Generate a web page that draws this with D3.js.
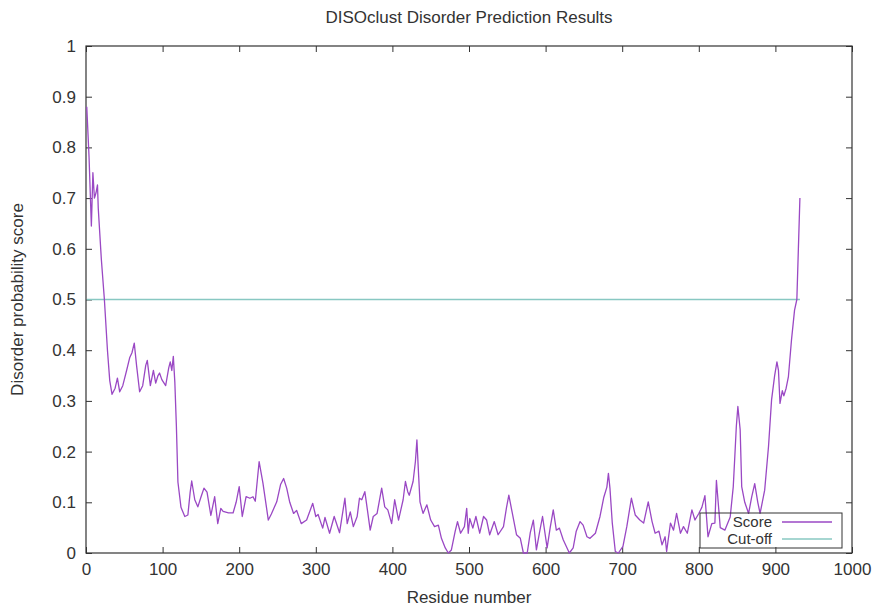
<!DOCTYPE html>
<html>
<head>
<meta charset="utf-8">
<script src="https://cdn.jsdelivr.net/npm/d3@7"></script>
<style>
    body { margin: 0; background: #fff; }
    text { font-family: "Liberation Sans", Arial, sans-serif; fill: #333; }
</style>
</head>
<body>
<div id="svg_wrapper"></div>
<script>
const chartTitle = 'DISOclust Disorder Prediction Results';
const xTitle = 'Residue number';
const yTitle = 'Disorder probability score';

const residues = [1, 4, 7, 9, 11, 13, 15, 16, 20, 24, 28, 31, 34, 38, 41, 44, 48, 53, 57, 60,
    63, 66, 70, 74, 78, 80, 84, 88, 91, 94, 96, 99, 104, 108, 110, 112, 114, 116, 118, 120,
    124, 129, 133, 136, 138, 142, 146, 150, 154, 158, 163, 168, 172, 176, 179, 186, 192, 196, 200, 204,
    209, 214, 218, 221, 226, 231, 238, 242, 249, 254, 258, 262, 266, 271, 275, 281, 288, 296, 300, 303,
    309, 312, 318, 324, 331, 338, 341, 345, 349, 354, 357, 360, 364, 366, 371, 375, 380, 386, 390, 394,
    399, 403, 408, 414, 417, 420, 422, 427, 430, 432, 434, 436, 440, 445, 450, 455, 460, 464, 469, 473,
    477, 482, 485, 489, 494, 497, 499, 501, 505, 509, 514, 519, 523, 527, 533, 538, 545, 549, 552, 557,
    562, 567, 571, 576, 580, 584, 588, 592, 596, 602, 606, 610, 614, 618, 623, 631, 636, 640, 645, 649,
    654, 658, 665, 671, 676, 680, 682, 684, 687, 691, 695, 701, 706, 712, 717, 723, 728, 734, 739, 743,
    748, 752, 756, 758, 763, 767, 771, 776, 780, 785, 791, 795, 800, 804, 808, 812, 817, 821, 823, 828,
    834, 841, 845, 847, 849, 851, 854, 856, 860, 865, 869, 873, 877, 880, 886, 891, 895, 899, 902, 904,
    906, 909, 911, 914, 917, 921, 925, 928, 930, 932];

const scores = [0.88, 0.78, 0.645, 0.75, 0.70, 0.71, 0.726, 0.68, 0.58, 0.50, 0.40, 0.34, 0.313, 0.325, 0.345, 0.318, 0.33, 0.36, 0.385, 0.395,
    0.414, 0.37, 0.318, 0.33, 0.37, 0.38, 0.33, 0.36, 0.335, 0.35, 0.355, 0.342, 0.33, 0.365, 0.377, 0.36, 0.388, 0.336, 0.25, 0.14,
    0.09, 0.072, 0.075, 0.12, 0.142, 0.105, 0.091, 0.11, 0.128, 0.12, 0.074, 0.111, 0.058, 0.088, 0.082, 0.079, 0.079, 0.1, 0.131, 0.072,
    0.111, 0.108, 0.111, 0.102, 0.18, 0.138, 0.065, 0.077, 0.101, 0.135, 0.147, 0.128, 0.1, 0.078, 0.084, 0.058, 0.065, 0.098, 0.072, 0.076,
    0.049, 0.07, 0.039, 0.072, 0.04, 0.108, 0.058, 0.081, 0.052, 0.072, 0.108, 0.105, 0.121, 0.1, 0.045, 0.072, 0.078, 0.128, 0.091, 0.085,
    0.058, 0.105, 0.065, 0.105, 0.141, 0.121, 0.114, 0.141, 0.18, 0.223, 0.16, 0.101, 0.078, 0.095, 0.065, 0.052, 0.055, 0.029, 0.01, 0.0,
    0.006, 0.043, 0.062, 0.039, 0.052, 0.088, 0.039, 0.068, 0.049, 0.072, 0.039, 0.072, 0.065, 0.036, 0.062, 0.036, 0.052, 0.09, 0.114, 0.075,
    0.036, 0.029, 0.0, 0.0, 0.04, 0.065, 0.006, 0.04, 0.072, 0.01, 0.05, 0.085, 0.045, 0.049, 0.026, 0.0, 0.01, 0.043, 0.062, 0.055,
    0.032, 0.029, 0.039, 0.072, 0.11, 0.13, 0.157, 0.128, 0.06, 0.003, 0.0, 0.013, 0.052, 0.108, 0.075, 0.065, 0.059, 0.101, 0.062, 0.039,
    0.043, 0.016, 0.032, 0.003, 0.059, 0.045, 0.078, 0.039, 0.052, 0.039, 0.085, 0.065, 0.078, 0.09, 0.113, 0.032, 0.058, 0.059, 0.143, 0.05,
    0.045, 0.071, 0.131, 0.19, 0.25, 0.289, 0.243, 0.131, 0.1, 0.078, 0.11, 0.137, 0.1, 0.078, 0.124, 0.21, 0.302, 0.35, 0.377, 0.36,
    0.295, 0.32, 0.31, 0.325, 0.348, 0.42, 0.479, 0.5, 0.6, 0.70];

const cutoff = 0.5;
const xTicks = [0, 100, 200, 300, 400, 500, 600, 700, 800, 900, 1000];
const yTicks = [0, 0.1, 0.2, 0.3, 0.4, 0.5, 0.6, 0.7, 0.8, 0.9, 1];
const legendLabels = ['Score', 'Cut-off'];

const width = 877, height = 608;
const margin = { left: 86, right: 25, top: 46, bottom: 55 };
const scoreColor = '#9a48c4';
const cutoffColor = '#88c8c2';
const axisColor = '#333';

const svg = d3.select('#svg_wrapper')
    .append('svg')
    .attr('width', width)
    .attr('height', height);

const x = d3.scaleLinear()
    .domain([0, 1000])
    .range([margin.left, width - margin.right]);

const y = d3.scaleLinear()
    .domain([0, 1])
    .range([height - margin.bottom, margin.top]);

const points = residues.map((r, i) => ({ r: r, v: scores[i] }));

// gnuplot style: ticks point inward, mirrored on top and right
const tickLen = 6;
svg.append('g')
    .attr('transform', `translate(0,${y(0)})`)
    .call(d3.axisBottom(x).tickValues(xTicks).tickSizeInner(-tickLen).tickSizeOuter(0).tickPadding(10).tickFormat(d3.format('d')))
    .call(g => g.select('.domain').remove());

svg.append('g')
    .attr('transform', `translate(0,${y(1)})`)
    .call(d3.axisTop(x).tickValues(xTicks).tickSizeInner(-tickLen).tickSizeOuter(0).tickFormat(''))
    .call(g => g.select('.domain').remove());

svg.append('g')
    .attr('transform', `translate(${x(0)},0)`)
    .call(d3.axisLeft(y).tickValues(yTicks).tickSizeInner(-tickLen).tickSizeOuter(0).tickPadding(10).tickFormat(d3.format('~g')))
    .call(g => g.select('.domain').remove());

svg.append('g')
    .attr('transform', `translate(${x(1000)},0)`)
    .call(d3.axisRight(y).tickValues(yTicks).tickSizeInner(-tickLen).tickSizeOuter(0).tickFormat(''))
    .call(g => g.select('.domain').remove());

svg.selectAll('.tick line').attr('stroke', axisColor);
svg.selectAll('.tick text')
    .attr('font-size', 17)
    .attr('font-family', '"Liberation Sans", Arial, sans-serif')
    .attr('fill', axisColor);

// border
svg.append('rect')
    .attr('x', x(0))
    .attr('y', y(1))
    .attr('width', x(1000) - x(0))
    .attr('height', y(0) - y(1))
    .attr('fill', 'none')
    .attr('stroke', axisColor)
    .attr('stroke-width', 1.2);

// cut-off line across the scored residues
svg.append('line')
    .attr('x1', x(residues[0]))
    .attr('x2', x(residues[residues.length - 1]))
    .attr('y1', y(cutoff))
    .attr('y2', y(cutoff))
    .attr('stroke', cutoffColor)
    .attr('stroke-width', 1.6);

const line = d3.line()
    .x(d => x(d.r))
    .y(d => y(d.v));

svg.append('path')
    .datum(points)
    .attr('d', line)
    .attr('fill', 'none')
    .attr('stroke', scoreColor)
    .attr('stroke-width', 1.3)
    .attr('stroke-linejoin', 'round');

// legend
const legend = svg.append('g');
legend.append('rect')
    .attr('x', 700)
    .attr('y', 513)
    .attr('width', 142)
    .attr('height', 35)
    .attr('fill', 'none')
    .attr('stroke', axisColor)
    .attr('stroke-width', 1);

const legendColors = [scoreColor, cutoffColor];
legendLabels.forEach((lab, i) => {
    const ly = 522 + i * 17;
    legend.append('text')
        .attr('x', 772)
        .attr('y', ly)
        .attr('dy', '0.35em')
        .attr('text-anchor', 'end')
        .attr('font-size', 15)
        .text(lab);
    legend.append('line')
        .attr('x1', 782)
        .attr('x2', 832)
        .attr('y1', ly)
        .attr('y2', ly)
        .attr('stroke', legendColors[i])
        .attr('stroke-width', 1.6);
});

// titles
svg.append('text')
    .attr('x', (x(0) + x(1000)) / 2)
    .attr('y', 23)
    .attr('text-anchor', 'middle')
    .attr('font-size', 17)
    .text(chartTitle);

svg.append('text')
    .attr('x', (x(0) + x(1000)) / 2)
    .attr('y', 603)
    .attr('text-anchor', 'middle')
    .attr('font-size', 17)
    .text(xTitle);

svg.append('text')
    .attr('transform', `translate(23,${(y(0) + y(1)) / 2}) rotate(-90)`)
    .attr('text-anchor', 'middle')
    .attr('font-size', 17)
    .text(yTitle);
</script>
</body>
</html>
